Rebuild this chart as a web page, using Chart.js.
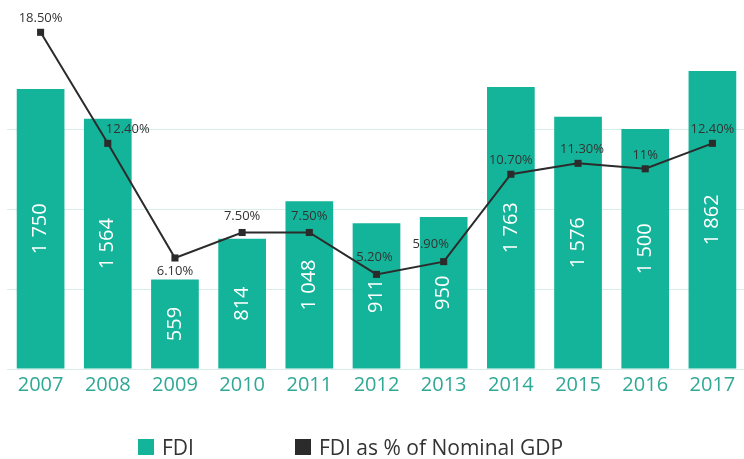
<!DOCTYPE html>
<html>
<head>
<meta charset="utf-8">
<script src="https://cdn.jsdelivr.net/npm/chart.js@4/dist/chart.umd.min.js"></script>
<style>
  html, body { margin: 0; padding: 0; background: #fff; overflow: hidden; }
  #wrap { position: relative; width: 751px; height: 459px; }
  #legend {
    position: absolute; left: 138px; top: 433px;
    display: flex; align-items: center;
    font: 21px "Open Sans", sans-serif; color: #333;
  }
  #legend .item { display: flex; align-items: center; margin-right: 101px; }
  #legend .box { width: 16px; height: 16px; margin-right: 8px; }
</style>
</head>
<body>
<div id="wrap">
  <canvas id="fdi-chart"></canvas>
  <div id="legend"></div>
</div>
<script>
// data
const years = ["2007", "2008", "2009", "2010", "2011", "2012", "2013", "2014", "2015", "2016", "2017"];
const fdi = [1750, 1564, 559, 814, 1048, 911, 950, 1763, 1576, 1500, 1862];
const fdiPct = [18.5, 12.4, 6.1, 7.5, 7.5, 5.2, 5.9, 10.7, 11.3, 11, 12.4];
const pctLabels = ["18.50%", "12.40%", "6.10%", "7.50%", "7.50%", "5.20%", "5.90%", "10.70%", "11.30%", "11%", "12.40%"];
const gridValues = [0, 500, 1000, 1500];

// where each % label sits relative to its point (dx, dy)
const pctLabelShift = [[0, -14], [20, -14], [0, 13], [0, -16], [0, -16], [-2, -17], [-13, -17], [0, -14], [4, -14], [0, -14], [0, -14]];

const teal = '#14b49a';
const dark = '#2b2b2b';

function spaced(v) {
    return String(v).replace(/\B(?=(\d{3})+(?!\d))/g, ' ');
}

// value labels: white rotated numbers inside bars, % labels by the points
const valueLabels = {
    id: 'valueLabels',
    afterDatasetsDraw(chart) {
        const ctx = chart.ctx;
        ctx.save();
        ctx.textAlign = 'center';
        ctx.textBaseline = 'middle';

        chart.getDatasetMeta(0).data.forEach((bar, i) => {
            ctx.save();
            ctx.translate(bar.x, (bar.y + bar.base) / 2);
            ctx.rotate(-Math.PI / 2);
            ctx.fillStyle = '#fff';
            ctx.font = '20px "Open Sans"';
            ctx.fillText(spaced(fdi[i]), 0, 0);
            ctx.restore();
        });

        ctx.fillStyle = '#333';
        ctx.font = '13px "Open Sans"';
        chart.getDatasetMeta(1).data.forEach((pt, i) => {
            const s = pctLabelShift[i];
            ctx.fillText(pctLabels[i], pt.x + s[0], pt.y + s[1]);
        });
        ctx.restore();
    }
};

const fdiChart = new Chart(document.getElementById('fdi-chart'), {
    type: 'bar',
    data: {
        labels: years,
        datasets: [{
            type: 'bar',
            label: 'FDI',
            data: fdi,
            backgroundColor: teal,
            categoryPercentage: 1,
            barPercentage: 0.71,
            yAxisID: 'y',
            order: 1
        }, {
            type: 'line',
            label: 'FDI as % of Nominal GDP',
            data: fdiPct,
            borderColor: dark,
            backgroundColor: dark,
            borderWidth: 2,
            pointStyle: 'rect',
            pointRadius: 5,
            pointBackgroundColor: dark,
            pointBorderWidth: 0,
            fill: false,
            tension: 0,
            yAxisID: 'y1',
            order: 0
        }]
    },
    options: {
        responsive: true,
        maintainAspectRatio: false,
        animation: false,
        layout: {
            padding: { left: 7, right: 1.5, top: 5, bottom: 58 }
        },
        plugins: {
            legend: { display: false },
            tooltip: { enabled: false },
            title: { display: false }
        },
        scales: {
            x: {
                grid: { display: false, drawTicks: false },
                border: { display: false },
                ticks: {
                    color: '#30a896',
                    padding: 4,
                    font: { family: 'Open Sans', size: 20 }
                }
            },
            y: {
                min: 0,
                max: 2275,
                border: { display: false },
                ticks: { display: false },
                afterBuildTicks: axis => {
                    axis.ticks = gridValues.map(v => ({ value: v }));
                },
                grid: {
                    drawTicks: false,
                    color: '#d6ede9'
                }
            },
            y1: {
                display: false,
                min: 0,
                max: 20
            }
        }
    },
    plugins: [valueLabels]
});

// legend built from the datasets
const legendEl = document.getElementById('legend');
fdiChart.data.datasets.forEach(ds => {
    const item = document.createElement('div');
    item.className = 'item';
    const box = document.createElement('span');
    box.className = 'box';
    box.style.background = ds.type === 'line' ? dark : teal;
    const txt = document.createElement('span');
    txt.textContent = ds.label;
    item.appendChild(box);
    item.appendChild(txt);
    legendEl.appendChild(item);
});
</script>
</body>
</html>
